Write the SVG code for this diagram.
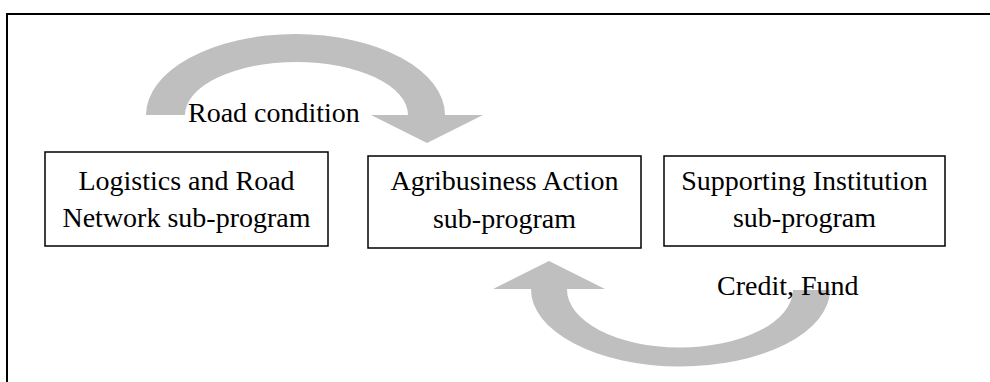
<svg xmlns="http://www.w3.org/2000/svg" width="990" height="382" viewBox="0 0 990 382">
  <style>
    .box { fill: #ffffff; stroke: #000000; stroke-width: 1.5; }
    .lbl { font-family: "Liberation Serif", "Times New Roman", serif; font-size: 28px; fill: #000000; }
    .mid { text-anchor: middle; }
    .flow { fill: #bfbfbf; stroke: none; }
  </style>

  <rect x="0" y="0" width="990" height="382" fill="#ffffff"/>

  <!-- outer frame, runs past the right and bottom edges -->
  <rect id="frame" x="7" y="14" width="1000" height="400" fill="none" stroke="#000000" stroke-width="2"/>

  <!-- curved flow arrows and their labels -->
  <g id="connectors">
    <!-- Logistics -> Agribusiness: arched arrow pointing down -->
    <path class="flow" d="M 146,115 A 149.5,81 0 0 1 445,115 L 483,115 L 427,143 L 371,115 L 408,115 A 111.5,53 0 0 0 185,115 Z"/>
    <!-- Supporting Institution -> Agribusiness: U-shaped arrow pointing up -->
    <path class="flow" d="M 531,289 A 149.5,77 0 0 0 830,290 L 793,290 A 113,58 0 0 1 567,289 L 605,289 L 549,261 L 493,289 Z"/>
    <text class="lbl" x="188" y="122">Road condition</text>
    <text class="lbl" x="717" y="295">Credit, Fund</text>
  </g>

  <g id="logistics">
    <rect class="box" x="45" y="152" width="283" height="94"/>
    <text class="lbl mid" x="186.5" y="190">Logistics and Road</text>
    <text class="lbl mid" x="186.5" y="227">Network sub-program</text>
  </g>

  <g id="agribusiness">
    <rect class="box" x="368" y="156" width="273" height="92"/>
    <text class="lbl mid" x="504.5" y="190">Agribusiness Action</text>
    <text class="lbl mid" x="504.5" y="228">sub-program</text>
  </g>

  <g id="supporting">
    <rect class="box" x="664" y="156" width="281" height="90"/>
    <text class="lbl mid" x="804.5" y="190">Supporting Institution</text>
    <text class="lbl mid" x="804.5" y="227">sub-program</text>
  </g>
</svg>
